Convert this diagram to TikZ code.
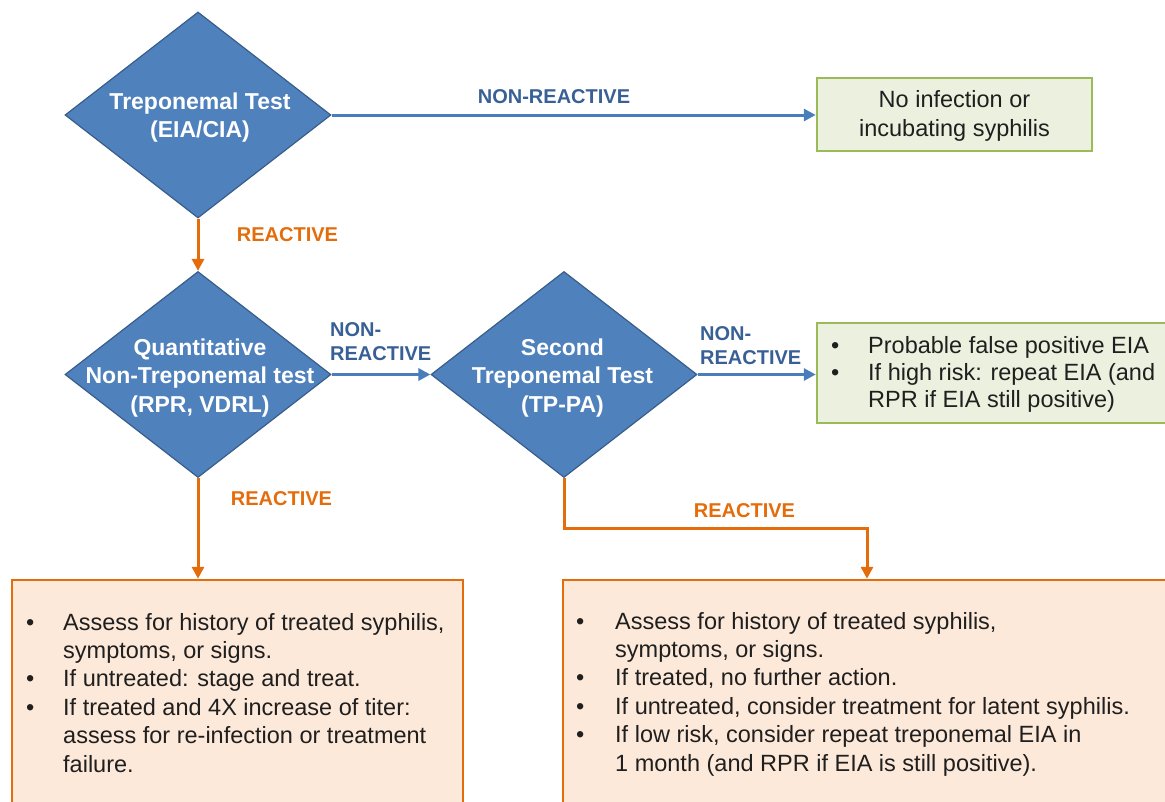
\documentclass[tikz,border=0pt]{standalone}
\usepackage{fontspec}
\setmainfont{Liberation Sans}
\usetikzlibrary{shapes.geometric,arrows.meta}
\definecolor{diafill}{RGB}{79,129,189}
\definecolor{diadraw}{RGB}{56,93,138}
\definecolor{bluearr}{RGB}{74,126,187}
\definecolor{bluelab}{RGB}{56,96,150}
\definecolor{orng}{RGB}{228,108,10}
\definecolor{orfill}{RGB}{253,233,217}
\definecolor{grdraw}{RGB}{155,187,89}
\definecolor{grfill}{RGB}{235,241,222}
\newcommand\mybul[1]{\llap{\makebox[0pt]{\textbullet}\hspace{#1pt}}}
\begin{document}
\begin{tikzpicture}[x=1pt,y=-1pt,
  dia/.style={diamond,minimum width=266pt,minimum height=206pt,inner sep=0pt,
    fill=diafill,draw=diadraw,line width=1.2pt},
  diatext/.style={anchor=base,inner sep=0pt,text=white,
    font=\fontsize{23}{28.5}\selectfont\bfseries},
  greenbox/.style={rectangle,draw=grdraw,fill=grfill,line width=2.5pt,inner sep=0pt},
  orangebox/.style={rectangle,draw=orng,fill=orfill,line width=2.5pt,inner sep=0pt},
  boxtext/.style={anchor=base west,inner sep=0pt,text=black!88,
    font=\fontsize{23.5}{28.4}\selectfont},
  bluearrow/.style={draw=bluearr,line width=3pt,-{Triangle[length=12pt,width=12pt]}},
  orangearrow/.style={draw=orng,line width=3pt,-{Triangle[length=12pt,width=12pt]}},
  bluelabel/.style={inner sep=0pt,text=bluelab,font=\fontsize{20}{24}\selectfont\bfseries},
  orangelabel/.style={inner sep=0pt,text=orng,font=\fontsize{20}{24}\selectfont\bfseries}
]
\useasboundingbox (0,0) rectangle (1165,801);
\clip (0,0) rectangle (1165,801);

% diamonds
\node[dia] (d1) at (198,115) {};
\node[dia] (d2) at (198,374.5) {};
\node[dia] (d3) at (564,374.5) {};
\node[diatext] (d1t) at (200,109) {\begin{tabular}[t]{@{}c@{}}Treponemal Test\\(EIA/CIA)\end{tabular}};
\node[diatext] (d2t) at (200,355) {\begin{tabular}[t]{@{}c@{}}Quantitative\\Non-Treponemal test\\(RPR, VDRL)\end{tabular}};
\node[diatext] (d3t) at (562.5,355) {\begin{tabular}[t]{@{}c@{}}Second\\Treponemal Test\\(TP-PA)\end{tabular}};

% boxes
\node[greenbox,minimum width=275pt,minimum height=73pt] (g1) at (954.5,114.5) {};
\node[greenbox,minimum width=358pt,minimum height=100pt] (g2) at (996,373) {};
\node[orangebox,minimum width=451pt,minimum height=240pt] (o1) at (237.5,700) {};
\node[orangebox,minimum width=617pt,minimum height=240pt] (o2) at (871.5,700) {};

\node[boxtext,anchor=base,font=\fontsize{23.5}{29}\selectfont] (g1t) at (954.5,107)
  {\begin{tabular}[t]{@{}c@{}}No infection or\\incubating syphilis\end{tabular}};
\node[boxtext,font=\fontsize{23.5}{27}\selectfont] (g2t) at (868,353)
  {\begin{tabular}[t]{@{}l@{}}\mybul{33}Probable false positive EIA\\
   \mybul{33}If high risk: repeat EIA (and\\
   RPR if EIA still positive)\end{tabular}};
\node[boxtext] (o1t) at (63,630)
  {\begin{tabular}[t]{@{}l@{}}\mybul{33}Assess for history of treated syphilis,\\
   symptoms, or signs.\\
   \mybul{33}If untreated: stage and treat.\\
   \mybul{33}If treated and 4X increase of titer:\\
   assess for re-infection or treatment\\
   failure.\end{tabular}};
\node[boxtext] (o2t) at (615,629)
  {\begin{tabular}[t]{@{}l@{}}\mybul{35}Assess for history of treated syphilis,\\
   symptoms, or signs.\\
   \mybul{35}If treated, no further action.\\
   \mybul{35}If untreated, consider treatment for latent syphilis.\\
   \mybul{35}If low risk, consider repeat treponemal EIA in\\
   1 month (and RPR if EIA is still positive).\end{tabular}};

% connectors
\coordinate (c1) at (867,528);
\draw[bluearrow] (d1.east) -- (d1.east -| g1.west);
\draw[orangearrow] (d1.south) -- (d2.north);
\draw[bluearrow] (d2.east) -- (d3.west);
\draw[bluearrow] (d3.east) -- (d3.east -| g2.west);
\draw[orangearrow] (d2.south) -- (d2.south |- o1.north);
\draw[orangearrow] (d3.south) |- (c1) -- (c1 |- o2.north);

% labels
\node[bluelabel,anchor=base] (l1) at (554,103) {NON-REACTIVE};
\node[orangelabel,anchor=base] (l2) at (287.5,241.7) {REACTIVE};
\node[bluelabel,anchor=base west] (l3) at (330,336) {\begin{tabular}[t]{@{}l@{}}NON-\\REACTIVE\end{tabular}};
\node[bluelabel,anchor=base west] (l4) at (700,340) {\begin{tabular}[t]{@{}l@{}}NON-\\REACTIVE\end{tabular}};
\node[orangelabel,anchor=base] (l5) at (281.5,505) {REACTIVE};
\node[orangelabel,anchor=base] (l6) at (744.5,517.7) {REACTIVE};
\end{tikzpicture}
\end{document}
